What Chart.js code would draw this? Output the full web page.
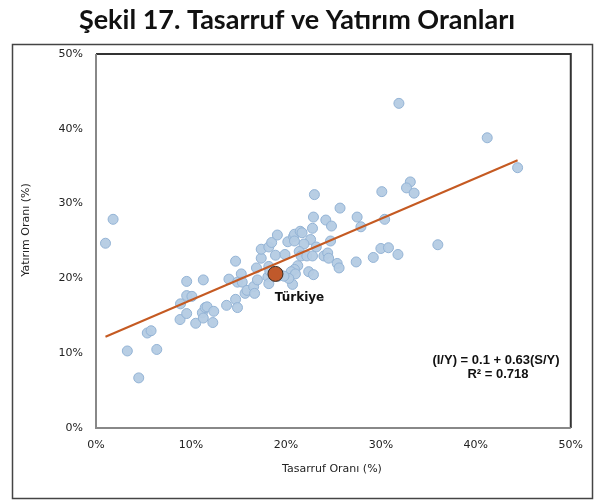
<!DOCTYPE html>
<html>
<head>
<meta charset="utf-8">
<script src="https://cdn.jsdelivr.net/npm/chart.js@4"></script>
<style>
  body { margin: 0; background: #fff; }
  #wrap { width: 594px; height: 502px; }
</style>
</head>
<body>
<div id="wrap"><canvas id="myChart" width="594" height="502"></canvas></div>
<script>
// tasarruf orani (x), yatirim orani (y), %
const tasarruf = [1.0, 1.8, 3.3, 4.5, 5.4, 5.8, 6.4, 8.9, 8.85, 9.55, 9.55, 10.1, 9.55, 10.5, 11.3, 11.2, 11.3, 11.5, 11.7, 12.4,
  12.3, 13.75, 14.7, 14.9, 14.0, 14.7, 15.3, 14.9, 15.4, 15.7, 15.9, 16.6, 16.7, 17.0, 16.9, 18.2, 17.4, 17.4, 18.2, 18.5,
  19.1, 18.9, 19.9, 20.2, 20.8, 20.9, 21.5, 21.7, 22.8, 22.9, 23.0, 24.2, 24.8, 25.7, 27.5, 27.9, 22.6, 21.9, 23.2, 24.7,
  21.4, 21.6, 22.2, 22.8, 24.0, 24.4, 24.5, 25.4, 25.6, 27.4, 29.2, 21.25, 20.9, 20.55, 21.0, 22.4, 22.9, 19.4, 18.1, 18.2,
  20.7, 20.3, 30.1, 30.4, 31.9, 33.1, 32.7, 33.5, 41.2, 44.4, 30.0, 30.8, 31.8, 36.0, 20.9, 19.2, 19.8, 18.3];
const yatirim = [24.7, 27.9, 10.3, 6.7, 12.7, 13.0, 10.5, 16.6, 14.5, 15.3, 17.7, 17.6, 19.6, 14.0, 19.8, 15.4, 14.7, 16.1, 16.2, 15.6,
  14.1, 16.4, 17.2, 16.1, 19.9, 22.3, 20.6, 19.5, 19.5, 18.0, 18.4, 18.9, 18.0, 19.8, 21.4, 21.6, 22.7, 23.9, 24.2, 24.8,
  25.8, 23.1, 23.2, 24.9, 25.6, 25.9, 26.3, 26.1, 26.7, 28.2, 31.2, 27.8, 27.0, 29.4, 28.2, 26.9, 25.2, 24.6, 24.2, 25.0,
  23.6, 23.0, 23.0, 23.0, 23.0, 23.4, 22.7, 22.0, 21.4, 22.2, 22.8, 21.7, 21.2, 20.9, 20.6, 20.9, 20.5, 20.5, 20.2, 19.3,
  19.2, 20.0, 31.6, 27.9, 43.4, 32.9, 32.1, 31.4, 38.8, 34.8, 24.0, 24.1, 23.2, 24.5, 25.0, 20.3, 20.3, 21.0];

// Turkiye
const turkiye = { x: 18.9, y: 20.6 };

// regresyon dogrusu uclari
const trendX = [1.0, 44.4];
const trendY = [12.2, 35.8];

const xTicks = [0, 10, 20, 30, 40, 50];
const yTicks = [0, 10, 20, 30, 40, 50];

const points = tasarruf.map((x, i) => ({ x: x, y: yatirim[i] }));
const trend = trendX.map((x, i) => ({ x: x, y: trendY[i] }));

const tickFont = { family: "DejaVu Sans", size: 11 };

// cerceve, basliklar ve yazilar
const extras = {
  id: "extras",
  beforeDraw(chart) {
    const ctx = chart.ctx;
    ctx.save();
    ctx.fillStyle = "#fff";
    ctx.fillRect(0, 0, chart.width, chart.height);
    ctx.strokeStyle = "#444";
    ctx.lineWidth = 1.5;
    ctx.strokeRect(12.5, 44.5, 580, 454);
    ctx.restore();
  },
  afterDatasetsDraw(chart) {
    const ctx = chart.ctx;
    const a = chart.chartArea;
    ctx.save();
    // plot alani kenarlari
    ctx.lineWidth = 2;
    ctx.strokeStyle = "#333";
    ctx.beginPath();
    ctx.moveTo(a.left, a.top);
    ctx.lineTo(a.right, a.top);
    ctx.lineTo(a.right, a.bottom);
    ctx.stroke();
    ctx.strokeStyle = "#888";
    ctx.beginPath();
    ctx.moveTo(a.left, a.top);
    ctx.lineTo(a.left, a.bottom);
    ctx.lineTo(a.right, a.bottom);
    ctx.stroke();

    ctx.fillStyle = "#111";
    ctx.textAlign = "center";
    ctx.textBaseline = "middle";
    ctx.font = "bold 27px Lato";
    ctx.fillText("Şekil 17. Tasarruf ve Yatırım Oranları", 297, 20);

    ctx.font = "11px 'DejaVu Sans'";
    ctx.fillStyle = "#222";
    ctx.fillText("Tasarruf Oranı (%)", 332, 469);
    ctx.save();
    ctx.translate(26, 230);
    ctx.rotate(-Math.PI / 2);
    ctx.fillText("Yatırım Oranı (%)", 0, 0);
    ctx.restore();

    ctx.fillStyle = "#111";
    ctx.font = "bold 12px 'DejaVu Sans'";
    const xs = chart.scales.x, ys = chart.scales.y;
    ctx.fillText("Türkiye", xs.getPixelForValue(turkiye.x) + 24, ys.getPixelForValue(turkiye.y) + 24);
    ctx.font = "bold 13px 'Liberation Sans'";
    ctx.fillText("(I/Y) = 0.1 + 0.63(S/Y)", 496, 360);
    ctx.fillText("R² = 0.718", 498, 374);
    ctx.restore();
  }
};

const config = {
  type: "scatter",
  data: {
    datasets: [
      {
        label: "Türkiye",
        data: [turkiye],
        backgroundColor: "#C0592B",
        borderColor: "#3a2a20",
        borderWidth: 1,
        pointRadius: 7.5,
        order: 0,
      },
      {
        label: "Ülkeler",
        data: points,
        backgroundColor: "rgba(180, 203, 227, 0.95)",
        borderColor: "#94B4D6",
        borderWidth: 1,
        pointRadius: 5,
        order: 2,
      },
      {
        type: "line",
        label: "Trend",
        data: trend,
        borderColor: "#C55A22",
        borderWidth: 2,
        pointRadius: 0,
        fill: false,
        order: 1,
      },
    ],
  },
  options: {
    responsive: false,
    animation: false,
    layout: { padding: { left: 0, right: 18, top: 54, bottom: 44 } },
    plugins: { legend: { display: false }, tooltip: { enabled: false } },
    scales: {
      x: {
        type: "linear",
        min: 0,
        max: 50,
        afterFit: (s) => { s.height = 30; },
        afterBuildTicks: (s) => { s.ticks = xTicks.map((v) => ({ value: v })); },
        grid: { display: false, drawTicks: false },
        border: { display: false },
        ticks: { font: tickFont, color: "#222", padding: 11, callback: (v) => v + "%" },
      },
      y: {
        type: "linear",
        min: 0,
        max: 50,
        afterFit: (s) => { s.width = 96; },
        afterBuildTicks: (s) => { s.ticks = yTicks.map((v) => ({ value: v })); },
        grid: { display: false, drawTicks: false },
        border: { display: false },
        ticks: { font: tickFont, color: "#222", padding: 13, callback: (v) => v + "%" },
      },
    },
  },
  plugins: [extras],
};

const myChart = new Chart(document.getElementById("myChart"), config);
</script>
</body>
</html>
